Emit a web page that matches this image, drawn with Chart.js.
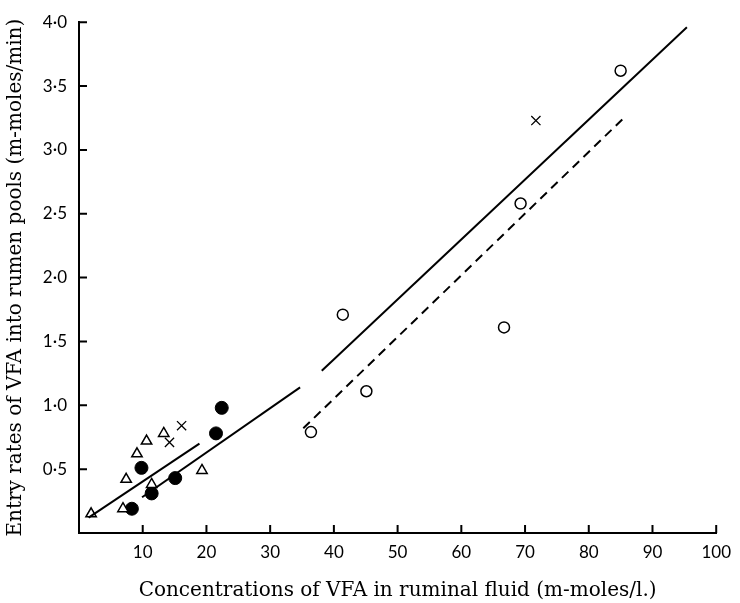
<!DOCTYPE html>
<html>
<head>
<meta charset="utf-8">
<script src="https://cdn.jsdelivr.net/npm/chart.js@4"></script>
<style>
  body { margin: 0; background: #fff; }
  #wrap { width: 740px; height: 603px; position: relative; }
</style>
</head>
<body>
<div id="wrap"><canvas id="vfaChart"></canvas></div>
<script>
// Points (x = VFA concentration, y = entry rate)
const openCircleX = [36.4, 41.4, 45.1, 66.7, 69.3, 85.0];
const openCircleY = [0.79, 1.71, 1.11, 1.61, 2.58, 3.62];
const filledCircleX = [8.3, 11.4, 9.8, 15.1, 21.5, 22.4];
const filledCircleY = [0.19, 0.31, 0.51, 0.43, 0.78, 0.98];
const triangleX = [1.9, 6.9, 7.4, 9.1, 10.6, 11.4, 13.3, 19.3];
const triangleY = [0.15, 0.19, 0.42, 0.62, 0.72, 0.38, 0.78, 0.49];
const crossX = [14.2, 16.1, 71.7];
const crossY = [0.71, 0.84, 3.23];

// Regression lines (end points)
const lineAX = [1.5, 18.9];
const lineAY = [0.12, 0.70];
const lineBX = [9.9, 34.7];
const lineBY = [0.28, 1.14];
const lineCX = [38.1, 95.4];
const lineCY = [1.27, 3.96];
const dashedX = [35.2, 85.7];
const dashedY = [0.82, 3.26];

const xTicks = [10, 20, 30, 40, 50, 60, 70, 80, 90, 100];
const yTicks = [0.5, 1.0, 1.5, 2.0, 2.5, 3.0, 3.5, 4.0];

function pairs(xs, ys) {
    return xs.map((x, i) => ({ x: x, y: ys[i] }));
}

function lineSet(xs, ys, dash) {
    return {
        type: 'line',
        data: pairs(xs, ys),
        borderColor: '#000',
        borderWidth: 2,
        borderDash: dash || [],
        pointRadius: 0,
        fill: false,
        tension: 0
    };
}

// tick marks point inwards on the original, so draw them ourselves
const innerTicks = {
    id: 'innerTicks',
    afterDraw(chart) {
        const ctx = chart.ctx;
        const xs = chart.scales.x, ys = chart.scales.y;
        const area = chart.chartArea;
        ctx.save();
        ctx.strokeStyle = '#000';
        ctx.lineWidth = 2;
        ctx.beginPath();
        xTicks.forEach(v => {
            const px = xs.getPixelForValue(v);
            ctx.moveTo(px, area.bottom);
            ctx.lineTo(px, area.bottom - 8);
        });
        yTicks.forEach(v => {
            const py = ys.getPixelForValue(v);
            ctx.moveTo(area.left, py);
            ctx.lineTo(area.left + 8, py);
        });
        ctx.stroke();
        ctx.restore();
    }
};

const ctx = document.getElementById('vfaChart').getContext('2d');
new Chart(ctx, {
    type: 'scatter',
    data: {
        datasets: [
            lineSet(lineAX, lineAY),
            lineSet(lineBX, lineBY),
            lineSet(lineCX, lineCY),
            lineSet(dashedX, dashedY, [9, 6]),
            {
                data: pairs(openCircleX, openCircleY),
                pointStyle: 'circle', pointRadius: 5.5,
                backgroundColor: '#fff', borderColor: '#000', borderWidth: 1.5
            },
            {
                data: pairs(triangleX, triangleY),
                pointStyle: 'triangle', pointRadius: 6,
                backgroundColor: '#fff', borderColor: '#000', borderWidth: 1.5
            },
            {
                data: pairs(filledCircleX, filledCircleY),
                pointStyle: 'circle', pointRadius: 6.5,
                backgroundColor: '#000', borderColor: '#000', borderWidth: 1
            },
            {
                data: pairs(crossX, crossY),
                pointStyle: 'crossRot', pointRadius: 6.5,
                backgroundColor: '#000', borderColor: '#000', borderWidth: 1.3
            }
        ]
    },
    options: {
        responsive: true,
        maintainAspectRatio: false,
        animation: false,
        layout: { padding: { top: 13, right: 17, left: 0, bottom: 0 } },
        plugins: {
            legend: { display: false },
            tooltip: { enabled: false }
        },
        scales: {
            x: {
                type: 'linear',
                min: 0,
                max: 100,
                afterFit: s => { s.height = 70; },
                afterBuildTicks: s => { s.ticks = xTicks.map(v => ({ value: v })); },
                grid: { display: false, drawTicks: false },
                border: { display: true, color: '#000', width: 2 },
                ticks: {
                    color: '#000',
                    padding: 9,
                    maxRotation: 0,
                    font: { family: 'Lato', size: 17 }
                },
                title: {
                    display: true,
                    text: 'Concentrations of VFA in ruminal fluid (m-moles/l.)',
                    color: '#000',
                    font: { family: 'DejaVu Serif', size: 20 },
                    padding: { top: 3, bottom: 0 }
                }
            },
            y: {
                type: 'linear',
                min: 0,
                max: 4,
                afterFit: s => { s.width = 79; },
                afterBuildTicks: s => { s.ticks = yTicks.map(v => ({ value: v })); },
                grid: { display: false, drawTicks: false },
                border: { display: true, color: '#000', width: 2 },
                ticks: {
                    color: '#000',
                    padding: 12,
                    font: { family: 'Lato', size: 17 },
                    callback: v => v.toFixed(1).replace('.', '\u00b7')
                },
                title: {
                    display: true,
                    text: 'Entry rates of VFA into rumen pools (m-moles/min)',
                    color: '#000',
                    font: { family: 'DejaVu Serif', size: 20 },
                    padding: { top: 4, bottom: 0 }
                }
            }
        }
    },
    plugins: [innerTicks]
});
</script>
</body>
</html>
